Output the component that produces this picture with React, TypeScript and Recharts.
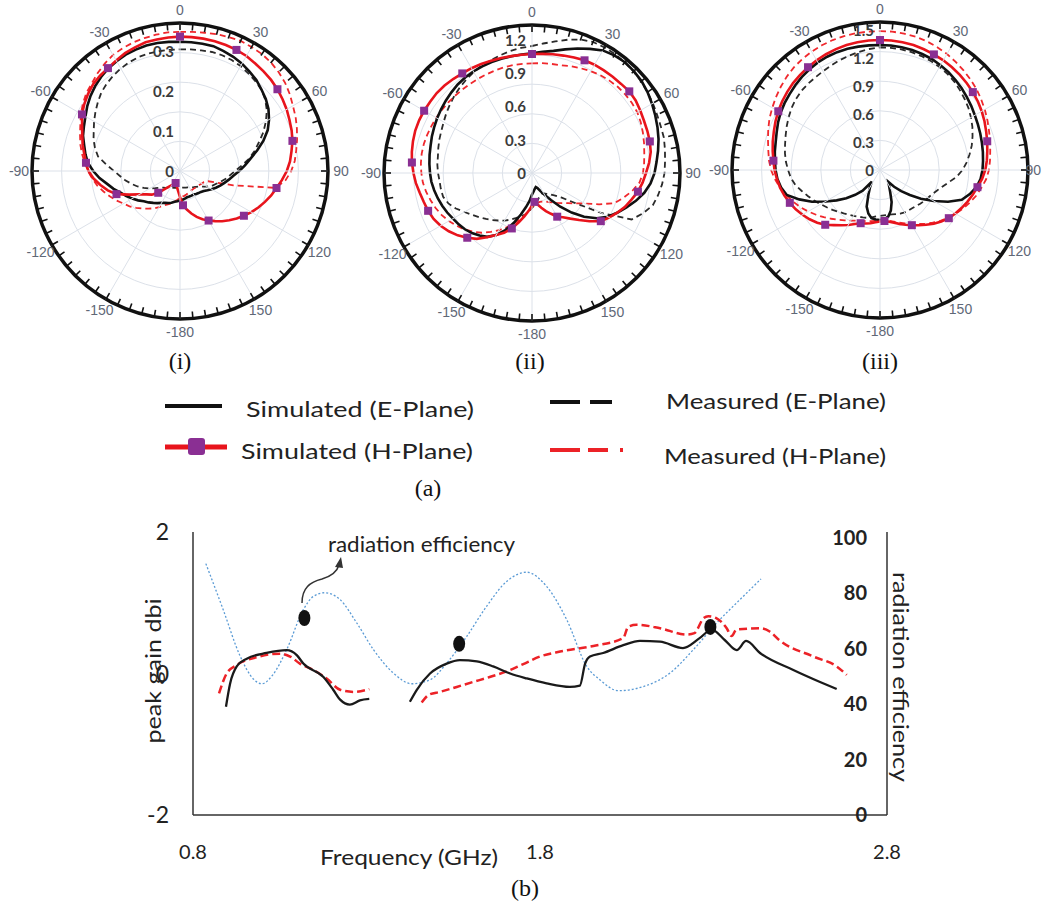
import React from 'react';
import {
  RadarChart,
  Radar,
  PolarGrid,
  PolarAngleAxis,
  PolarRadiusAxis,
  ComposedChart,
  Line,
  Scatter,
  XAxis,
  YAxis,
} from 'recharts';

// angle categories, 5 degree steps, clockwise from the top
const ANGLES = Array.from({ length: 72 }, (_, k) => k * 5);

// ---- (i) ----
const simE_i = [
  0.323, 0.323, 0.323, 0.323, 0.319, 0.315, 0.31, 0.303, 0.297, 0.288, 0.28, 0.27,
  0.257, 0.242, 0.222, 0.2, 0.179, 0.163, 0.148, 0.134, 0.124, 0.115, 0.107, 0.099,
  0.091, 0.084, 0.078, 0.074, 0.072, 0.07, 0.068, 0.068, 0.068, 0.068, 0.07, 0.072,
  0.074, 0.076, 0.078, 0.082, 0.085, 0.088, 0.092, 0.098, 0.104, 0.111, 0.118, 0.128,
  0.138, 0.148, 0.158, 0.172, 0.185, 0.202, 0.217, 0.231, 0.24, 0.248, 0.258, 0.265,
  0.273, 0.283, 0.292, 0.3, 0.307, 0.313, 0.317, 0.321, 0.323, 0.325, 0.325, 0.324,
];
const measE_i = [
  0.304, 0.305, 0.306, 0.308, 0.308, 0.306, 0.303, 0.298, 0.293, 0.288, 0.278, 0.265,
  0.248, 0.23, 0.21, 0.193, 0.175, 0.155, 0.138, 0.125, 0.115, 0.105, 0.095, 0.088,
  0.078, 0.068, 0.061, 0.056, 0.053, 0.05, 0.048, 0.045, 0.044, 0.043, 0.042, 0.042,
  0.042, 0.042, 0.043, 0.043, 0.045, 0.046, 0.048, 0.051, 0.055, 0.059, 0.065, 0.075,
  0.088, 0.1, 0.113, 0.125, 0.138, 0.15, 0.165, 0.185, 0.208, 0.22, 0.23, 0.238,
  0.248, 0.258, 0.268, 0.278, 0.285, 0.291, 0.296, 0.3, 0.303, 0.304, 0.304, 0.304,
];
const simH_i = [
  0.336, 0.336, 0.336, 0.336, 0.335, 0.334, 0.332, 0.328, 0.325, 0.322, 0.318, 0.313,
  0.308, 0.302, 0.297, 0.291, 0.283, 0.276, 0.267, 0.256, 0.245, 0.236, 0.226, 0.216,
  0.206, 0.195, 0.185, 0.174, 0.164, 0.153, 0.143, 0.133, 0.122, 0.11, 0.098, 0.086,
  0.065, 0.051, 0.042, 0.036, 0.032, 0.036, 0.041, 0.048, 0.058, 0.077, 0.092, 0.102,
  0.117, 0.14, 0.169, 0.187, 0.202, 0.217, 0.229, 0.236, 0.243, 0.252, 0.26, 0.27,
  0.283, 0.292, 0.3, 0.307, 0.311, 0.314, 0.319, 0.325, 0.329, 0.333, 0.334, 0.335,
];
const measH_i = [
  0.348, 0.349, 0.351, 0.354, 0.356, 0.359, 0.358, 0.357, 0.354, 0.349, 0.343, 0.335,
  0.326, 0.319, 0.311, 0.303, 0.295, 0.288, 0.278, 0.265, 0.243, 0.138, 0.075, 0.066,
  0.063, 0.06, 0.058, 0.057, 0.056, 0.056, 0.056, 0.057, 0.059, 0.061, 0.063, 0.064,
  0.067, 0.072, 0.078, 0.084, 0.089, 0.095, 0.104, 0.114, 0.123, 0.133, 0.143, 0.154,
  0.163, 0.175, 0.186, 0.198, 0.21, 0.22, 0.23, 0.239, 0.249, 0.258, 0.266, 0.275,
  0.286, 0.296, 0.305, 0.311, 0.32, 0.328, 0.335, 0.339, 0.342, 0.344, 0.346, 0.348,
];

// ---- (ii) ----
const simE_ii = [
  1.077, 1.094, 1.116, 1.152, 1.193, 1.233, 1.274, 1.292, 1.301, 1.296, 1.287, 1.269,
  1.247, 1.224, 1.202, 1.179, 1.152, 1.125, 1.103, 1.071, 1.026, 0.968, 0.905, 0.846,
  0.788, 0.711, 0.612, 0.504, 0.396, 0.297, 0.23, 0.18, 0.144, 0.131, 0.144, 0.167,
  0.194, 0.252, 0.311, 0.387, 0.477, 0.567, 0.644, 0.702, 0.734, 0.765, 0.788, 0.806,
  0.821, 0.842, 0.86, 0.878, 0.894, 0.909, 0.918, 0.927, 0.936, 0.945, 0.959, 0.972,
  0.986, 0.999, 1.013, 1.026, 1.04, 1.049, 1.055, 1.059, 1.062, 1.065, 1.067, 1.071,
];
const measE_ii = [
  1.143, 1.17, 1.202, 1.242, 1.278, 1.301, 1.305, 1.305, 1.301, 1.292, 1.283, 1.269,
  1.256, 1.242, 1.233, 1.229, 1.215, 1.202, 1.193, 1.175, 1.152, 1.125, 1.062, 0.99,
  0.72, 0.468, 0.342, 0.284, 0.252, 0.23, 0.212, 0.207, 0.216, 0.234, 0.261, 0.288,
  0.315, 0.351, 0.383, 0.405, 0.432, 0.464, 0.495, 0.522, 0.554, 0.585, 0.621, 0.657,
  0.702, 0.756, 0.801, 0.828, 0.833, 0.835, 0.846, 0.855, 0.86, 0.873, 0.887, 0.9,
  0.918, 0.941, 0.963, 0.986, 1.008, 1.029, 1.049, 1.067, 1.08, 1.098, 1.116, 1.13,
];
const simH_ii = [
  1.071, 1.076, 1.085, 1.094, 1.107, 1.119, 1.125, 1.128, 1.13, 1.134, 1.143, 1.139,
  1.125, 1.112, 1.105, 1.098, 1.085, 1.058, 1.026, 0.999, 0.968, 0.927, 0.891, 0.846,
  0.801, 0.756, 0.675, 0.599, 0.536, 0.486, 0.454, 0.405, 0.365, 0.324, 0.288, 0.261,
  0.293, 0.342, 0.396, 0.459, 0.531, 0.594, 0.644, 0.707, 0.774, 0.824, 0.873, 0.914,
  0.95, 0.977, 0.995, 1.008, 1.026, 1.049, 1.067, 1.085, 1.098, 1.109, 1.118, 1.121,
  1.121, 1.119, 1.119, 1.113, 1.104, 1.094, 1.089, 1.083, 1.076, 1.071, 1.068, 1.069,
];
const measH_ii = [
  0.987, 0.992, 0.997, 1.004, 1.022, 1.04, 1.058, 1.074, 1.085, 1.094, 1.098, 1.098,
  1.094, 1.08, 1.062, 1.044, 1.026, 1.013, 0.999, 0.972, 0.918, 0.855, 0.792, 0.666,
  0.549, 0.477, 0.423, 0.383, 0.351, 0.324, 0.302, 0.284, 0.275, 0.27, 0.275, 0.288,
  0.306, 0.342, 0.387, 0.432, 0.486, 0.54, 0.594, 0.648, 0.702, 0.747, 0.792, 0.828,
  0.864, 0.896, 0.923, 0.945, 0.968, 0.986, 0.996, 1.004, 1.008, 1.008, 1.004, 0.999,
  0.995, 0.99, 0.986, 0.981, 0.978, 0.977, 0.977, 0.978, 0.981, 0.984, 0.986, 0.986,
];

// ---- (iii) ----
const simE_iii = [
  1.338, 1.338, 1.335, 1.33, 1.321, 1.311, 1.295, 1.279, 1.257, 1.236, 1.214, 1.193,
  1.172, 1.156, 1.142, 1.129, 1.118, 1.107, 1.097, 1.081, 1.049, 0.995, 0.931, 0.803,
  0.663, 0.535, 0.417, 0.321, 0.235, 0.155, 0.193, 0.257, 0.364, 0.449, 0.507, 0.53,
  0.535, 0.532, 0.524, 0.482, 0.417, 0.295, 0.214, 0.153, 0.289, 0.375, 0.471, 0.567,
  0.674, 0.803, 0.92, 1.033, 1.075, 1.102, 1.118, 1.129, 1.143, 1.156, 1.177, 1.204,
  1.228, 1.247, 1.263, 1.282, 1.3, 1.316, 1.33, 1.338, 1.342, 1.343, 1.341, 1.339,
];
const measE_iii = [
  1.313, 1.313, 1.311, 1.305, 1.298, 1.287, 1.273, 1.257, 1.236, 1.209, 1.182, 1.156,
  1.124, 1.091, 1.054, 1.017, 0.974, 0.931, 0.883, 0.824, 0.749, 0.69, 0.647, 0.615,
  0.594, 0.578, 0.562, 0.546, 0.535, 0.53, 0.524, 0.514, 0.503, 0.492, 0.487, 0.487,
  0.492, 0.498, 0.514, 0.53, 0.54, 0.551, 0.567, 0.583, 0.605, 0.631, 0.663, 0.696,
  0.733, 0.776, 0.819, 0.867, 0.92, 0.958, 0.984, 1.011, 1.033, 1.052, 1.075, 1.102,
  1.129, 1.156, 1.177, 1.193, 1.202, 1.209, 1.22, 1.236, 1.252, 1.268, 1.284, 1.3,
];
const simH_iii = [
  1.391, 1.391, 1.389, 1.384, 1.375, 1.365, 1.356, 1.343, 1.329, 1.314, 1.297, 1.279,
  1.257, 1.234, 1.209, 1.188, 1.166, 1.148, 1.127, 1.097, 1.059, 1.027, 0.995, 0.963,
  0.931, 0.899, 0.856, 0.813, 0.765, 0.722, 0.682, 0.647, 0.615, 0.583, 0.562, 0.548,
  0.551, 0.562, 0.578, 0.592, 0.606, 0.637, 0.679, 0.722, 0.77, 0.829, 0.877, 0.92,
  0.958, 0.995, 1.027, 1.059, 1.086, 1.107, 1.129, 1.145, 1.166, 1.188, 1.209, 1.234,
  1.257, 1.279, 1.298, 1.316, 1.33, 1.343, 1.356, 1.367, 1.377, 1.384, 1.389, 1.391,
];
const measH_iii = [
  1.487, 1.487, 1.482, 1.477, 1.466, 1.45, 1.434, 1.412, 1.391, 1.37, 1.348, 1.321,
  1.295, 1.268, 1.241, 1.22, 1.198, 1.182, 1.166, 1.14, 1.102, 1.065, 1.022, 0.979,
  0.936, 0.893, 0.845, 0.797, 0.749, 0.706, 0.669, 0.631, 0.599, 0.572, 0.551, 0.54,
  0.54, 0.546, 0.556, 0.567, 0.578, 0.599, 0.626, 0.658, 0.696, 0.738, 0.786, 0.835,
  0.888, 0.942, 0.99, 1.038, 1.086, 1.129, 1.166, 1.193, 1.214, 1.241, 1.273, 1.305,
  1.332, 1.359, 1.386, 1.412, 1.434, 1.45, 1.463, 1.473, 1.48, 1.484, 1.487, 1.487,
];

const rTicks_i = [0, 0.1, 0.2, 0.3];
const rTicks_ii = [0, 0.3, 0.6, 0.9, 1.2];
const rTicks_iii = [0, 0.3, 0.6, 0.9, 1.2, 1.5];

// ---- (b) peak gain / radiation efficiency ----
const effFreq = [0.837, 0.887, 0.935, 0.974, 0.998, 1.03, 1.07, 1.118, 1.147, 1.18, 1.224, 1.272, 1.32, 1.377, 1.43, 1.483, 1.531, 1.589, 1.646, 1.704, 1.762, 1.819, 1.877, 1.935, 1.973, 2.026, 2.098, 2.175, 2.242, 2.309, 2.376, 2.437];
const effVals = [90.6, 74, 57.5, 49, 47.3, 50.5, 59.6, 74, 78.8, 80.1, 77.6, 69.2, 59.6, 51.2, 47.3, 48.7, 54.7, 64.4, 75.2, 84.2, 87.5, 82.4, 70.4, 53.5, 48.7, 44.8, 46.3, 51.2, 59.6, 69.2, 77.6, 85.1];

const simF1 = [0.895, 0.907, 0.926, 0.955, 1.012, 1.07, 1.099, 1.118, 1.176, 1.204, 1.224, 1.252, 1.281, 1.308];
const simG1 = [-0.47, -0.14, 0.1, 0.21, 0.29, 0.33, 0.26, 0.14, -0.05, -0.23, -0.37, -0.44, -0.38, -0.36];
const simF2 = [1.425, 1.445, 1.483, 1.531, 1.569, 1.618, 1.665, 1.714, 1.762, 1.819, 1.886, 1.915, 1.93, 1.944, 1.982, 2.04, 2.088, 2.146, 2.212, 2.26, 2.295, 2.333, 2.367, 2.394, 2.434, 2.53, 2.607, 2.655];
const simG2 = [-0.4, -0.23, 0, 0.14, 0.19, 0.17, 0.1, 0, -0.07, -0.14, -0.19, -0.17, 0.14, 0.24, 0.29, 0.4, 0.46, 0.45, 0.36, 0.5, 0.62, 0.47, 0.33, 0.46, 0.29, 0.05, -0.12, -0.22];

const measF1 = [0.875, 0.897, 0.926, 0.983, 1.051, 1.08, 1.108, 1.147, 1.185, 1.224, 1.262, 1.308];
const measG1 = [-0.28, 0, 0.12, 0.23, 0.28, 0.24, 0.14, 0.05, -0.07, -0.23, -0.26, -0.22];
const measF2 = [1.459, 1.48, 1.512, 1.56, 1.607, 1.655, 1.704, 1.75, 1.8, 1.858, 1.954, 2.04, 2.054, 2.078, 2.146, 2.223, 2.245, 2.271, 2.285, 2.309, 2.338, 2.352, 2.366, 2.434, 2.463, 2.49, 2.588, 2.655, 2.684];
const measG2 = [-0.41, -0.3, -0.26, -0.19, -0.12, -0.05, 0.03, 0.13, 0.24, 0.31, 0.39, 0.5, 0.66, 0.69, 0.64, 0.55, 0.57, 0.78, 0.81, 0.78, 0.64, 0.53, 0.62, 0.64, 0.59, 0.47, 0.24, 0.1, -0.02];

const dotFreq = [1.121, 1.567, 2.291];
const dotEff = [71, 61.7, 67.8];

const freqTicks = [0.8, 1.8, 2.8];
const gainTicks = [-2, 0, 2];
const effTicks = [0, 20, 40, 60, 80, 100];

const R = 148; // outer ring of every polar plot, px
const RINGS = [29.6, 59.2, 88.8, 118.4];
const SANS = 'Lato, "Open Sans", sans-serif';
const SERIF = '"Liberation Serif", "DejaVu Serif", serif';
const PAGE_W = 1042;

// outer ring ticks, 30 degree spokes and angle labels
function angleTick(cx: number, cy: number, left: number) {
  return (props: any) => {
    const a = Number(props.payload?.value);
    const t = (a * Math.PI) / 180;
    const s = Math.sin(t);
    const c = Math.cos(t);
    const label = a <= 150 ? a : a - 360;
    let lx = cx + 161 * s;
    let anchor = 'middle';
    if (left + lx + 9 > PAGE_W) {
      lx = PAGE_W - 1 - left;
      anchor = 'end';
    }
    const major = a % 30 === 0;
    return (
      <g>
        {major ? <line x1={cx} y1={cy} x2={cx + R * s} y2={cy - R * c} stroke="#dce1e9" strokeWidth={1} /> : null}
        <line x1={cx + R * s} y1={cy - R * c} x2={cx + (R - 7) * s} y2={cy - (R - 7) * c} stroke="#111" strokeWidth={1.6} />
        {major ? (
          <text x={lx} y={cy - 161 * c} textAnchor={anchor} dominantBaseline="central" fontSize={14} fill="#5f6877" fontFamily='"Liberation Sans", Arial, sans-serif'>
            {label}
          </text>
        ) : null}
      </g>
    );
  };
}

const radiusTick = (props: any) => (
  <text x={props.x - 6} y={props.y} textAnchor="end" dominantBaseline="central" fontSize={15} fontWeight={700} fill="#3b3b3b" fontFamily={SANS}>
    {props.payload?.value}
  </text>
);

const squareDot = (props: any) => {
  const { cx, cy, index } = props;
  if (index % 5 !== 0 || index >= 70) return <g key={`sq-${index}`} />;
  return <rect key={`sq-${index}`} x={cx - 4} y={cy - 4} width={8} height={8} fill="#8a2f93" />;
};

// max: radius value at the chart's outer radius; outer: that radius in px
function PolarPlot({ left, width, cx, cy, max, outer, rTicks, simE, measE, simH, measH }: any) {
  const rows = ANGLES.map((a, k) => ({ angle: a, simE: simE[k], measE: measE[k], simH: simH[k], measH: measH[k] }));
  return (
    <div style={{ position: 'absolute', left, top: 0 }}>
      <RadarChart width={width} height={345} data={rows} cx={cx} cy={cy} outerRadius={outer} margin={{ top: 0, right: 0, bottom: 0, left: 0 }}>
        <PolarGrid gridType="circle" polarRadius={RINGS} radialLines={false} stroke="#dce1e9" />
        <PolarGrid gridType="circle" polarRadius={[R]} radialLines={false} stroke="#111" strokeWidth={3.5} />
        <PolarAngleAxis dataKey="angle" axisLine={false} tickLine={false} tick={angleTick(cx, cy, left)} />
        <PolarRadiusAxis angle={90} domain={[0, max]} allowDataOverflow ticks={rTicks} axisLine={false} tickLine={false} tick={radiusTick} />
        <Radar dataKey="measE" stroke="#2a2a2a" strokeWidth={1.8} strokeDasharray="6 4" fill="none" fillOpacity={0} dot={false} isAnimationActive={false} />
        <Radar dataKey="measH" stroke="#f0282d" strokeWidth={1.8} strokeDasharray="6 4" fill="none" fillOpacity={0} dot={false} isAnimationActive={false} />
        <Radar dataKey="simE" stroke="#111" strokeWidth={2.6} fill="none" fillOpacity={0} dot={false} isAnimationActive={false} />
        <Radar dataKey="simH" stroke="#e8141c" strokeWidth={2.6} fill="none" fillOpacity={0} dot={squareDot} isAnimationActive={false} />
      </RadarChart>
    </div>
  );
}

function GainChart() {
  const eff = effFreq.map((f, i) => ({ f, e: effVals[i] }));
  const sim1 = simF1.map((f, i) => ({ f, g: simG1[i] }));
  const sim2 = simF2.map((f, i) => ({ f, g: simG2[i] }));
  const meas1 = measF1.map((f, i) => ({ f, g: measG1[i] }));
  const meas2 = measF2.map((f, i) => ({ f, g: measG2[i] }));
  const dots = dotFreq.map((f, i) => ({ f, e: dotEff[i] }));
  const axisLine = { stroke: '#333', strokeWidth: 1.5 };

  return (
    <div style={{ position: 'absolute', left: 0, top: 500 }}>
      <ComposedChart width={1042} height={380} margin={{ top: 32, right: 155, bottom: 35, left: 133 }}>
        <XAxis
          type="number"
          dataKey="f"
          domain={[0.8, 2.8]}
          ticks={freqTicks}
          tickFormatter={(v: number) => v.toFixed(1)}
          tickLine={false}
          axisLine={axisLine}
          tickMargin={24}
          height={30}
          allowDataOverflow
          tick={{ fontSize: 20, fill: '#222', fontFamily: SANS }}
        />
        <YAxis yAxisId="left" domain={[-2, 2]} ticks={gainTicks} width={60} tickLine={false} axisLine={axisLine} tickMargin={18} tick={{ fontSize: 23, fill: '#222', fontFamily: SANS }} />
        <YAxis
          yAxisId="right"
          orientation="right"
          mirror
          width={60}
          domain={[0, 102]}
          ticks={effTicks}
          tickLine={false}
          axisLine={axisLine}
          tickMargin={14}
          tick={{ fontSize: 20, fontWeight: 700, fill: '#222', fontFamily: SANS }}
        />
        <Line yAxisId="right" data={eff} dataKey="e" type="monotone" stroke="#5b9bd5" strokeWidth={1.3} strokeDasharray="2 2" dot={false} isAnimationActive={false} />
        <Line yAxisId="left" data={meas1} dataKey="g" type="monotone" stroke="#ec2227" strokeWidth={2.5} strokeDasharray="8 4" dot={false} isAnimationActive={false} />
        <Line yAxisId="left" data={meas2} dataKey="g" type="monotone" stroke="#ec2227" strokeWidth={2.5} strokeDasharray="8 4" dot={false} isAnimationActive={false} />
        <Line yAxisId="left" data={sim1} dataKey="g" type="monotone" stroke="#1a1a1a" strokeWidth={2.3} dot={false} isAnimationActive={false} />
        <Line yAxisId="left" data={sim2} dataKey="g" type="monotone" stroke="#1a1a1a" strokeWidth={2.3} dot={false} isAnimationActive={false} />
        <Scatter
          yAxisId="right"
          data={dots}
          dataKey="e"
          isAnimationActive={false}
          shape={(p: any) => <ellipse cx={p.cx} cy={p.cy} rx={6} ry={8} fill="#111" />}
        />
      </ComposedChart>
    </div>
  );
}

function Overlay() {
  return (
    <svg width={1042} height={909} style={{ position: 'absolute', left: 0, top: 0, pointerEvents: 'none' }}>
      {/* sub captions */}
      <g fontFamily={SERIF} fontSize={24} fill="#111" textAnchor="middle" dominantBaseline="central">
        <text x={180} y={361}>(i)</text>
        <text x={530} y={361}>(ii)</text>
        <text x={880} y={361}>(iii)</text>
        <text x={428} y={488}>(a)</text>
        <text x={525} y={888}>(b)</text>
      </g>

      {/* legend of (a) */}
      <line x1={165} y1={406} x2={222} y2={406} stroke="#111" strokeWidth={4} />
      <line x1={550} y1={402} x2={580} y2={402} stroke="#111" strokeWidth={4} />
      <line x1={590} y1={402} x2={612} y2={402} stroke="#111" strokeWidth={4} />
      <line x1={165} y1={447} x2={227} y2={447} stroke="#e8141c" strokeWidth={5} />
      <rect x={188} y={438} width={17} height={17} rx={3} fill="#8a2f93" />
      <line x1={550} y1={450} x2={580} y2={450} stroke="#ec2227" strokeWidth={4} />
      <line x1={588} y1={450} x2={608} y2={450} stroke="#ec2227" strokeWidth={4} />
      <line x1={620} y1={450} x2={623} y2={450} stroke="#ec2227" strokeWidth={4} />
      <g fontFamily={SANS} fontSize={22} fill="#222" dominantBaseline="central">
        <text x={246} y={408} textLength={228} lengthAdjust="spacingAndGlyphs">Simulated (E-Plane)</text>
        <text x={666} y={400} textLength={220} lengthAdjust="spacingAndGlyphs">Measured (E-Plane)</text>
        <text x={241} y={450} textLength={232} lengthAdjust="spacingAndGlyphs">Simulated (H-Plane)</text>
        <text x={664} y={455} textLength={222} lengthAdjust="spacingAndGlyphs">Measured (H-Plane)</text>
      </g>

      {/* axis titles of (b) */}
      <g fontFamily={SANS} fontSize={22} fill="#222" dominantBaseline="central">
        <text x={320} y={856} textLength={178} lengthAdjust="spacingAndGlyphs">Frequency (GHz)</text>
        <text x={152} y={671} textAnchor="middle" transform="rotate(-90 152 671)" textLength={145} lengthAdjust="spacingAndGlyphs">peak gain dbi</text>
        <text x={901} y={677} textAnchor="middle" transform="rotate(90 901 677)" textLength={210} lengthAdjust="spacingAndGlyphs">radiation efficiency</text>
        <text x={328} y={543} fontSize={21} textLength={187} lengthAdjust="spacingAndGlyphs">radiation efficiency</text>
      </g>

      {/* annotation arrow */}
      <path d="M302,603 C302,588 310,582 322,579 C332,576 337,572 339,565" fill="none" stroke="#333" strokeWidth={1.5} />
      <polygon points="335,567 341,557 343,568" fill="#333" />
    </svg>
  );
}

export default function App() {
  return (
    <div style={{ position: 'absolute', left: 0, top: 0, width: 1042, height: 909, background: '#fff', overflow: 'hidden' }}>
      <PolarPlot left={0} width={360} cx={180} cy={171} max={0.37} outer={R} rTicks={rTicks_i} simE={simE_i} measE={measE_i} simH={simH_i} measH={measH_i} />
      <PolarPlot left={352} width={360} cx={180} cy={173} max={1.332} outer={R} rTicks={rTicks_ii} simE={simE_ii} measE={measE_ii} simH={simH_ii} measH={measH_ii} />
      {/* (iii): ring at 1.584; radius domain kept at 2 with the chart radius scaled to match */}
      <PolarPlot left={700} width={342} cx={180} cy={170} max={2} outer={(R * 2) / 1.584} rTicks={rTicks_iii} simE={simE_iii} measE={measE_iii} simH={simH_iii} measH={measH_iii} />
      <GainChart />
      <Overlay />
    </div>
  );
}
